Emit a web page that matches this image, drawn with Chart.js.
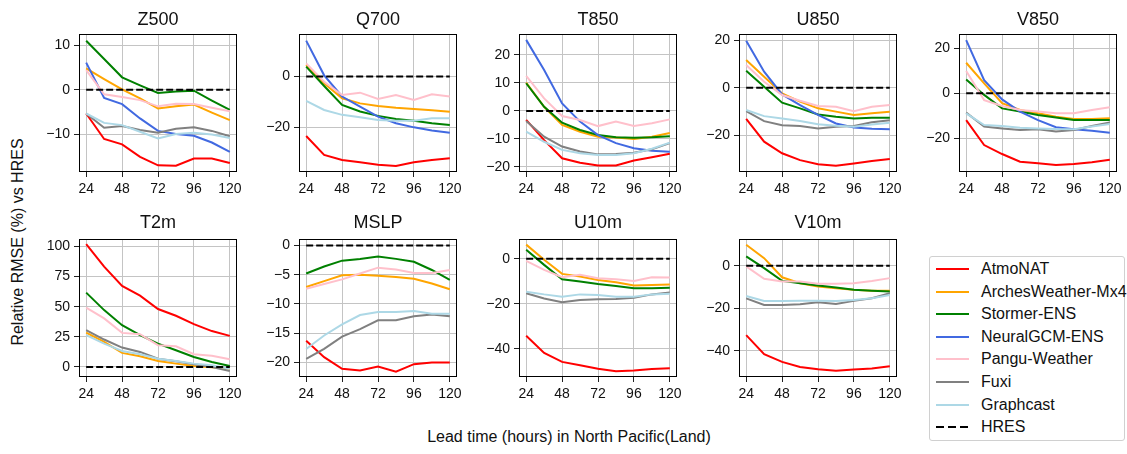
<!DOCTYPE html>
<html>
<head>
<meta charset="utf-8">
<script src="https://cdn.jsdelivr.net/npm/chart.js@4.4.1/dist/chart.umd.min.js"></script>
<style>
  body { margin: 0; background: #fff; }
  #fig { position: relative; width: 1127px; height: 454px; overflow: hidden; font-family: 'Liberation Sans', Arial, sans-serif; color: #111; }
  #fig canvas { position: absolute; }
  .ylabel { position: absolute; left: 18px; top: 242px; font-size: 16px; white-space: nowrap; transform: translate(-50%, -50%) rotate(-90deg); }
  .xlabel { position: absolute; left: 569px; top: 437px; font-size: 16px; white-space: nowrap; transform: translate(-50%, -50%); }
  .legend { position: absolute; left: 929px; top: 256px; width: 196px; height: 185px; border: 1px solid #d0d0d0; border-radius: 3px; box-sizing: border-box; }
  .legend .row { position: absolute; left: 6px; height: 20px; display: flex; align-items: center; font-size: 16px; white-space: nowrap; }
  .legend .sw { width: 33px; height: 2px; margin-right: 12px; }
</style>
</head>
<body>
<div id="fig">
  <div class="ylabel">Relative RMSE (%) vs HRES</div>
  <div class="xlabel">Lead time (hours) in North Pacific(Land)</div>
  <div class="legend" id="legend"></div>
</div>
<script>
// lead times (hours)
const HOURS = [24, 36, 48, 60, 72, 84, 96, 108, 120];
const X_TICKS = [24, 48, 72, 96, 120];

const MODELS = ['AtmoNAT', 'ArchesWeather-Mx4', 'Stormer-ENS', 'NeuralGCM-ENS', 'Pangu-Weather', 'Fuxi', 'Graphcast'];
const COLORS = ['#ff0000', '#ffa500', '#008000', '#4169e1', '#ffc0cb', '#808080', '#add8e6'];

// relative RMSE (%) per variable, rows follow MODELS, null = no data
const Z500 = [
  [-5.3, -11.0, -12.2, -15.0, -16.9, -17.0, -15.4, -15.4, -16.4],
  [4.8, 2.4, 0.1, -1.9, -4.2, -3.7, -3.3, -5.1, -6.8],
  [11.0, 6.9, 2.8, 1.0, -0.7, -0.4, -0.2, -2.4, -4.5],
  [6.1, -1.8, -3.2, -6.4, -9.2, -9.9, -10.3, -11.8, -13.9],
  [4.4, -1.0, -1.6, -2.3, -3.7, -3.1, -3.2, -4.0, -4.8],
  [-5.3, -8.5, -8.1, -9.0, -9.6, -8.7, -8.4, -9.2, -10.4],
  [-5.3, -7.4, -7.9, -9.4, -10.9, -9.9, -9.6, -10.0, -10.8]
];
const Q700 = [
  [-23.3, -30.7, -32.7, -33.6, -34.6, -35.0, -33.6, -32.7, -32.0],
  [4.6, -2.6, -8.5, -10.5, -11.5, -12.2, -12.7, -13.2, -13.8],
  [3.9, -3.7, -11.1, -13.7, -15.4, -16.6, -17.3, -18.3, -19.0],
  [14.1, 0.5, -7.8, -11.8, -15.7, -18.3, -19.9, -21.1, -22.0],
  [5.2, -2.0, -7.2, -6.3, -8.8, -7.2, -9.2, -6.9, -7.8],
  null,
  [-9.5, -13.1, -15.0, -15.9, -17.0, -17.3, -17.3, -16.3, -16.3]
];
const T850 = [
  [-3.2, -10.4, -16.9, -18.5, -19.5, -19.5, -17.7, -16.5, -15.3],
  [10.1, 1.5, -5.0, -7.4, -9.2, -9.5, -10.0, -9.2, -7.9],
  [9.9, 1.5, -4.2, -6.8, -8.6, -9.4, -9.6, -9.4, -9.0],
  [25.4, 14.6, 2.7, -3.8, -8.6, -11.5, -13.3, -14.2, -14.6],
  [12.5, 4.5, -1.8, -3.2, -5.4, -3.8, -5.4, -4.4, -3.0],
  [-3.6, -9.2, -12.7, -14.5, -15.5, -15.4, -14.9, -13.7, -11.5],
  [-7.4, -11.0, -13.9, -15.1, -15.7, -15.7, -15.1, -13.5, -11.3]
];
const U850 = [
  [-13.2, -22.8, -27.7, -30.6, -32.3, -33.0, -32.0, -31.0, -30.1],
  [11.7, 4.6, -2.4, -5.9, -8.7, -10.1, -11.5, -10.8, -10.1],
  [7.2, 0.4, -6.3, -8.7, -11.3, -12.3, -13.0, -12.7, -12.7],
  [19.9, 6.8, -2.8, -7.3, -11.5, -15.1, -16.8, -17.3, -17.5],
  [9.6, 2.5, -3.1, -5.5, -7.7, -8.0, -9.9, -8.0, -7.3],
  [-9.9, -14.1, -15.8, -16.2, -17.2, -16.5, -16.2, -14.6, -13.7],
  [-9.4, -12.0, -13.0, -14.1, -15.4, -16.1, -16.5, -15.5, -14.8]
];
const V850 = [
  [-11.9, -23.0, -27.0, -30.4, -31.1, -31.9, -31.4, -30.7, -29.6],
  [13.6, 4.4, -4.4, -7.4, -8.9, -10.4, -11.4, -11.4, -11.1],
  [6.2, -0.7, -6.7, -8.1, -9.6, -10.7, -11.9, -11.9, -11.9],
  [23.7, 5.9, -2.7, -8.1, -11.9, -15.1, -16.0, -16.7, -17.5],
  [9.9, -3.0, -5.6, -7.4, -8.1, -8.9, -8.9, -7.4, -6.2],
  [-8.6, -14.8, -15.6, -16.3, -16.0, -17.0, -16.3, -14.5, -13.0],
  [-8.9, -14.1, -14.5, -15.3, -15.6, -15.9, -16.0, -14.8, -13.6]
];
const T2M = [
  [101.9, 83.3, 67.2, 59.2, 48.1, 42.5, 35.6, 29.8, 25.8],
  [28.6, 20.8, 11.7, 8.9, 5.0, 2.8, 0.8, -0.2, -1.4],
  [61.7, 47.2, 34.7, 26.4, 19.4, 13.9, 8.3, 4.2, 0.8],
  null,
  [49.2, 40.3, 28.3, 27.2, 18.1, 17.2, 10.6, 9.4, 6.4],
  [30.6, 22.8, 16.1, 12.5, 6.9, 4.7, 2.2, 0.0, -3.3],
  [26.4, 19.4, 13.3, 10.6, 6.9, 5.0, 2.8, 1.4, -1.4]
];
const MSLP = [
  [-16.3, -19.1, -21.1, -21.4, -20.7, -21.6, -20.3, -20.0, -20.0],
  [-7.1, -6.1, -5.1, -5.0, -5.2, -5.4, -5.7, -6.5, -7.5],
  [-4.8, -3.6, -2.6, -2.3, -1.9, -2.3, -2.8, -4.2, -5.9],
  null,
  [-7.4, -6.6, -5.8, -4.8, -3.8, -4.1, -4.7, -4.7, -4.2],
  [-19.4, -17.7, -15.6, -14.3, -12.8, -12.8, -12.1, -11.8, -12.1],
  [-17.7, -15.4, -13.5, -11.9, -11.4, -11.4, -11.2, -11.7, -11.7]
];
const U10M = [
  [-34.2, -41.8, -45.8, -47.3, -48.8, -49.9, -49.6, -48.9, -48.6],
  [6.3, -0.4, -6.7, -7.9, -9.4, -10.4, -11.9, -11.6, -11.4],
  [4.0, -2.7, -9.1, -10.1, -11.2, -12.1, -13.1, -13.1, -12.9],
  null,
  [-0.9, -4.9, -8.2, -7.1, -8.6, -9.1, -9.8, -8.2, -8.3],
  [-15.3, -17.6, -19.3, -18.3, -18.0, -17.9, -17.3, -15.8, -15.0],
  [-14.6, -15.8, -16.8, -15.8, -16.1, -16.8, -16.8, -15.8, -15.5]
];
const V10M = [
  [-32.6, -41.6, -45.2, -47.6, -48.7, -49.4, -48.8, -48.3, -47.2],
  [9.9, 3.6, -5.4, -8.2, -9.8, -10.6, -11.3, -11.7, -11.7],
  [4.4, -1.1, -7.1, -8.2, -9.3, -10.2, -11.3, -11.7, -12.1],
  null,
  [-0.3, -6.1, -7.4, -7.4, -8.5, -8.5, -8.2, -7.1, -5.8],
  [-15.3, -18.4, -18.4, -18.1, -17.2, -18.0, -16.5, -15.3, -12.9],
  [-14.2, -16.5, -16.5, -16.4, -16.4, -16.5, -16.1, -15.3, -13.7]
];

const PANELS = [
  { title: 'Z500', data: Z500, min: -18.4, max: 12.5, step: 10 },
  { title: 'Q700', data: Q700, min: -37.4, max: 16.7, step: 20 },
  { title: 'T850', data: T850, min: -21.8, max: 27.5, step: 10 },
  { title: 'U850', data: U850, min: -35.6, max: 22.7, step: 20 },
  { title: 'V850', data: V850, min: -35.0, max: 26.4, step: 20 },
  { title: 'T2m', data: T2M, min: -8.3, max: 106.2, step: 25 },
  { title: 'MSLP', data: MSLP, min: -22.5, max: 1.1, step: 5 },
  { title: 'U10m', data: U10M, min: -52.5, max: 8.8, step: 20 },
  { title: 'V10m', data: V10M, min: -52.3, max: 12.6, step: 20 }
];

Chart.defaults.font.family = "'Liberation Sans', Arial, sans-serif";
Chart.defaults.color = '#111';

// layout of the axes boxes
const PLOT_W = 158, PLOT_H = 138;
const COL_X = [79, 299, 519, 739, 959];
const ROW_Y = [34, 239];
const Y_AXIS_W = 50, X_AXIS_H = 30, TITLE_H = 30, RIGHT_PAD = 14;

const fmt = v => (v < 0 ? '\u2212' + Math.abs(v) : String(v));

// black box round the plot area
const frame = {
  id: 'frame',
  afterDatasetsDraw(chart) {
    const { ctx, chartArea: a } = chart;
    ctx.save();
    ctx.strokeStyle = '#000';
    ctx.lineWidth = 1;
    ctx.strokeRect(Math.round(a.left) + 0.5, Math.round(a.top) + 0.5,
      Math.round(a.right - a.left) - 1, Math.round(a.bottom - a.top) - 1);
    ctx.restore();
  }
};

const fig = document.getElementById('fig');

PANELS.forEach((p, k) => {
  const row = k < 5 ? 0 : 1;
  const col = k % 5;
  const canvas = document.createElement('canvas');
  canvas.width = Y_AXIS_W + PLOT_W + RIGHT_PAD;
  canvas.height = TITLE_H + PLOT_H + X_AXIS_H;
  canvas.style.left = (COL_X[col] - Y_AXIS_W) + 'px';
  canvas.style.top = (ROW_Y[row] - TITLE_H) + 'px';
  fig.appendChild(canvas);

  const datasets = [];
  p.data.forEach((vals, i) => {
    if (!vals) return;
    datasets.push({
      label: MODELS[i],
      data: HOURS.map((h, j) => ({ x: h, y: vals[j] })),
      borderColor: COLORS[i],
      borderWidth: 2,
      order: 8 - i
    });
  });
  datasets.push({
    label: 'HRES',
    data: HOURS.map(h => ({ x: h, y: 0 })),
    borderColor: '#000',
    borderWidth: 2,
    borderDash: [7, 3],
    order: 0
  });

  const titlePad = row === 0 ? { top: 5, bottom: 3.4 } : { top: 3, bottom: 5.4 };

  new Chart(canvas, {
    type: 'line',
    data: { datasets },
    options: {
      responsive: false,
      animation: false,
      layout: { padding: { right: RIGHT_PAD } },
      elements: { point: { radius: 0 }, line: { tension: 0 } },
      plugins: {
        legend: { display: false },
        tooltip: { enabled: false },
        title: {
          display: true, text: p.title, fullSize: false,
          font: { size: 18, weight: 'normal' }, color: '#111', padding: titlePad
        }
      },
      scales: {
        x: {
          type: 'linear', min: 19.2, max: 124.8,
          afterBuildTicks: s => { s.ticks = X_TICKS.map(v => ({ value: v })); },
          afterFit: s => { s.height = X_AXIS_H; },
          ticks: { font: { size: 14 }, color: '#111', padding: 4, maxRotation: 0 },
          grid: { color: '#c4c4c4', lineWidth: 1, tickLength: 5, tickColor: '#222' },
          border: { display: false }
        },
        y: {
          min: p.min, max: p.max,
          afterBuildTicks: s => {
            const t = [];
            for (let v = Math.ceil(p.min / p.step) * p.step; v <= p.max; v += p.step) t.push({ value: v });
            s.ticks = t;
          },
          afterFit: s => { s.width = Y_AXIS_W; },
          ticks: { font: { size: 14 }, color: '#111', padding: 4, callback: fmt },
          grid: { color: '#c4c4c4', lineWidth: 1, tickLength: 5, tickColor: '#222' },
          border: { display: false }
        }
      }
    },
    plugins: [frame]
  });
});

// legend
const legend = document.getElementById('legend');
const LEGEND_ROWS = MODELS.map((m, i) => ({ name: m, color: COLORS[i] })).concat([{ name: 'HRES', dashed: true }]);
LEGEND_ROWS.forEach((r, i) => {
  const row = document.createElement('div');
  row.className = 'row';
  row.style.top = (2 + i * 22.6) + 'px';
  const sw = document.createElement('div');
  sw.className = 'sw';
  sw.style.background = r.dashed
    ? 'repeating-linear-gradient(to right, #000 0 8px, transparent 8px 12px)'
    : r.color;
  const txt = document.createElement('span');
  txt.textContent = r.name;
  row.appendChild(sw);
  row.appendChild(txt);
  legend.appendChild(row);
});
</script>
</body>
</html>
